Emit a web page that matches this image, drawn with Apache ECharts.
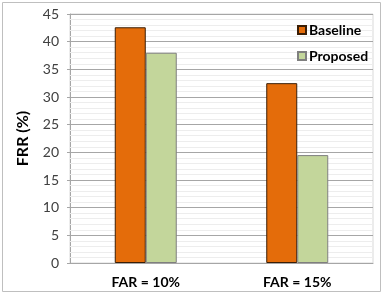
<!DOCTYPE html>
<html><head><meta charset="utf-8">
<script src="https://cdn.jsdelivr.net/npm/echarts@6/dist/echarts.min.js"></script>
<style>html,body{margin:0;padding:0;background:#fff}#c{width:383px;height:294px}</style>
</head><body><div id="c"></div>
<script>
const categories = ['FAR = 10%', 'FAR = 15%'];
const baseline = [42.6, 32.5];
const proposed = [38.0, 19.5];
const yTicks = {min: 0, max: 45, interval: 5};
const minorGridValues = [1, 2, 3, 4, 6, 7, 8, 9, 11, 12, 13, 14, 16, 17, 18, 19, 21, 22, 23, 24,
  26, 27, 28, 29, 31, 32, 33, 34, 36, 37, 38, 39, 41, 42, 43, 44];
const FONT = 'Lato, "Open Sans", sans-serif';
const chart = echarts.init(document.getElementById('c'), null, {renderer: 'canvas'});
chart.setOption({
  animation: false,
  backgroundColor: '#fff',
  textStyle: {fontFamily: FONT},
  graphic: [{type: 'rect', shape: {x: 2.5, y: 2.5, width: 378, height: 289}, style: {fill: 'none', stroke: '#bfbfbf', lineWidth: 1}, z: -1}],
  grid: {left: 70, right: 10, top: 14, bottom: 31, show: true, borderColor: '#d9d9d9', borderWidth: 1, backgroundColor: 'transparent'},
  legend: {
    orient: 'vertical', left: 297, top: 23, padding: 0, itemWidth: 8, itemHeight: 8, itemGap: 12, icon: 'rect', z: 20,
    textStyle: {fontFamily: FONT, fontWeight: 'bold', fontSize: 14, color: '#000', padding: [0, 0, 0, -2]},
    data: ['Baseline', 'Proposed']
  },
  xAxis: {
    type: 'category', data: categories,
    axisLine: {lineStyle: {color: '#a6a6a6'}}, axisTick: {show: false},
    axisLabel: {fontFamily: FONT, fontWeight: 'bold', fontSize: 14, color: '#000', margin: 12}
  },
  yAxis: {
    type: 'value', min: yTicks.min, max: yTicks.max, interval: yTicks.interval,
    name: 'FRR (%)', nameLocation: 'middle', nameGap: 39,
    nameTextStyle: {fontFamily: FONT, fontWeight: 'bold', fontSize: 16, color: '#000'},
    axisLine: {show: true, lineStyle: {color: '#a6a6a6'}},
    axisTick: {show: true, length: 3, lineStyle: {color: '#a6a6a6'}},
    axisLabel: {fontFamily: FONT, fontSize: 14, color: '#404040', margin: 11},
    splitLine: {show: true, lineStyle: {color: '#a6a6a6', width: 1}}
  },
  series: [
    {name: 'minor', type: 'line', data: [], z: 1, silent: true,
     markLine: {silent: true, symbol: 'none', label: {show: false}, animation: false, z: 1,
       lineStyle: {color: '#ededed', width: 1, type: 'solid'},
       data: minorGridValues.map(v => ({yAxis: v}))}},
    {name: 'Baseline', type: 'bar', data: baseline, barWidth: 31, barGap: '0%', z: 5,
     itemStyle: {color: '#E46C0A', borderColor: '#3a1e06', borderWidth: 1}},
    {name: 'Proposed', type: 'bar', data: proposed, barWidth: 31, barGap: '0%', z: 5,
     itemStyle: {color: '#C3D69B', borderColor: '#7f7f7f', borderWidth: 1}}
  ]
});
</script></body></html>
